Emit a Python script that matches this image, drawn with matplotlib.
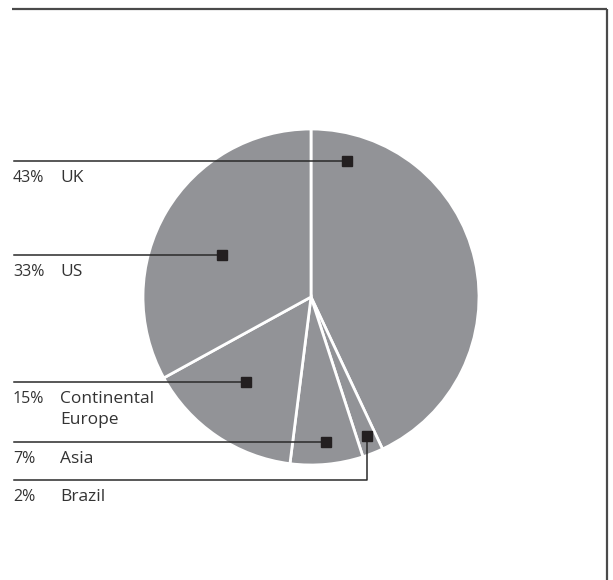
import matplotlib.pyplot as plt

# revenue split by region
regions = ["UK", "Brazil", "Asia", "Continental\nEurope", "US"]
shares = [43, 2, 7, 15, 33]

# label rows on the left, in top-to-bottom order
label_order = ["UK", "US", "Continental\nEurope", "Asia", "Brazil"]

W, H = 613, 580
plt.rcParams["font.family"] = ["Open Sans", "DejaVu Sans"]

fig = plt.figure(figsize=(W / 100, H / 100), dpi=100)
ax = fig.add_axes([0, 0, 1, 1])

def py(y):
    # pixel row from the top -> axis y
    return H - y

cx, cy, rad = 311, 297, 168
ax.pie(shares, center=(cx, py(cy)), radius=rad, startangle=90,
       counterclock=False, colors=["#929397"] * len(shares),
       wedgeprops=dict(edgecolor="white", linewidth=2), frame=True)
ax.set_xlim(0, W)
ax.set_ylim(0, H)
ax.set_aspect("equal")
ax.axis("off")

# frame: top rule and right rule
ax.plot([12, 607], [py(9), py(9)], color="#4a4a4a", lw=1.6, solid_capstyle="butt")
ax.plot([607, 607], [py(9), py(H)], color="#4a4a4a", lw=1.6, solid_capstyle="butt")

# leader row y, marker position for each region
leader_y = {"UK": 161, "US": 255, "Continental\nEurope": 382, "Asia": 442, "Brazil": 480}
marker_xy = {"UK": (347, 161), "US": (222, 255), "Continental\nEurope": (246, 382),
             "Asia": (326, 442), "Brazil": (367, 436)}

ink = "#2a2a2a"
for name in label_order:
    val = shares[regions.index(name)]
    ly = leader_y[name]
    mx, my = marker_xy[name]
    if my == ly:
        ax.plot([14, mx], [py(ly), py(ly)], color=ink, lw=1.1)
    else:
        ax.plot([14, mx, mx], [py(ly), py(ly), py(my)], color=ink, lw=1.1)
    ax.plot(mx, py(my), marker="s", ms=6.5, color="#231f20", mec="#231f20")
    ax.text(13, py(ly + 21), f"{val}%", fontsize=11.5, color="#333333",
            va="baseline", ha="left")
    # one text per line so every row keeps its baseline
    for i, part in enumerate(name.split("\n")):
        ax.text(60, py(ly + 21 + 21 * i), part, fontsize=12.5, color="#333333",
                va="baseline", ha="left")

fig.savefig("out.png", dpi=100, facecolor="white")
